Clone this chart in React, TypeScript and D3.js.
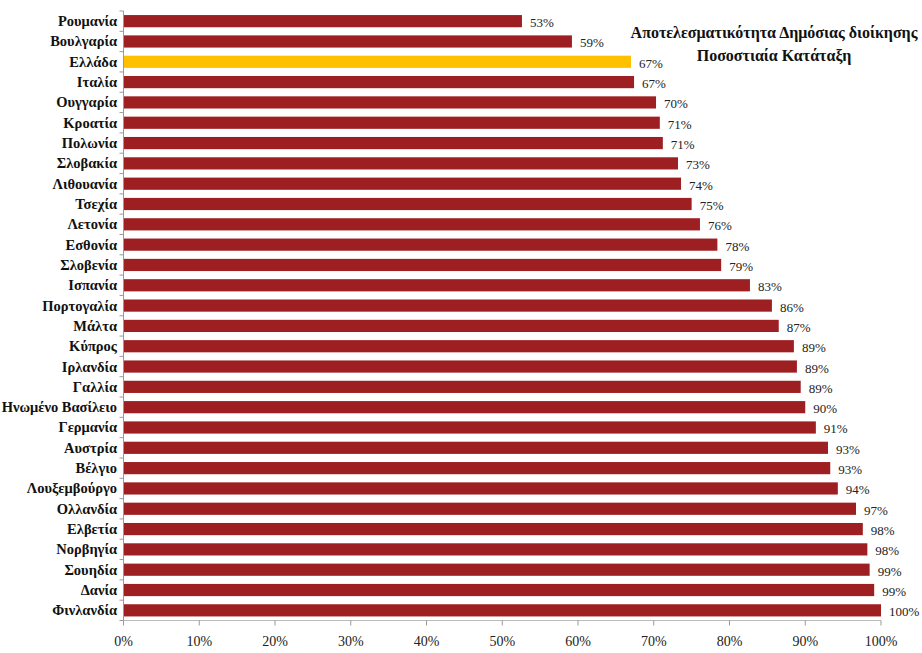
import React from "react";
import * as d3 from "d3";

const countries = [
  "Ρουμανία", "Βουλγαρία", "Ελλάδα", "Ιταλία", "Ουγγαρία", "Κροατία", "Πολωνία",
  "Σλοβακία", "Λιθουανία", "Τσεχία", "Λετονία", "Εσθονία", "Σλοβενία", "Ισπανία",
  "Πορτογαλία", "Μάλτα", "Κύπρος", "Ιρλανδία", "Γαλλία", "Ηνωμένο Βασίλειο",
  "Γερμανία", "Αυστρία", "Βέλγιο", "Λουξεμβούργο", "Ολλανδία", "Ελβετία",
  "Νορβηγία", "Σουηδία", "Δανία", "Φινλανδία",
];
const values = [
  52.6, 59.2, 67.0, 67.4, 70.3, 70.8, 71.2, 73.2, 73.6, 75.0, 76.1, 78.4, 78.9, 82.7,
  85.6, 86.5, 88.5, 88.9, 89.4, 90.0, 91.4, 93.0, 93.3, 94.3, 96.7, 97.6, 98.2, 98.5,
  99.1, 100,
];
const highlight = "Ελλάδα";
const xTicks = [0, 10, 20, 30, 40, 50, 60, 70, 80, 90, 100];
const titleLines = ["Αποτελεσματικότητα Δημόσιας διοίκησης", "Ποσοστιαία Κατάταξη"];

export default function App() {
  const W = 922, H = 653;
  const left = 123.5, right = 881, top = 11, bottom = 620.5;
  const x = d3.scaleLinear().domain([0, 100]).range([left, right]);
  const y = d3.scaleBand<string>().domain(countries).range([top, bottom]).paddingInner(0.4).paddingOuter(0.2);
  const boundaries = d3.range(countries.length + 1).map((i) => top + (i * (bottom - top)) / countries.length);
  const serif = "'Liberation Serif', 'DejaVu Serif', serif";
  return (
    <svg width={W} height={H} style={{ position: "absolute", left: 0, top: 0, background: "#fff" }}>
      {countries.map((c, i) => (
        <g key={c}>
          <rect x={x(0)} y={y(c)!} width={x(values[i]) - x(0)} height={y.bandwidth()}
            fill={c === highlight ? "#ffc000" : "#9e1f22"} />
          <text x={x(values[i]) + 8} y={y(c)! + y.bandwidth() / 2 + 6} fontFamily={serif}
            fontSize={13} fill="#222">{Math.round(values[i])}%</text>
          <text x={117} y={y(c)! + y.bandwidth() / 2 + 5} textAnchor="end" fontFamily={serif}
            fontWeight="bold" fontSize={14.5} fill="#111">{c}</text>
        </g>
      ))}
      <line x1={left} x2={left} y1={top} y2={bottom} stroke="#999" />
      {boundaries.map((b, i) => (
        <line key={i} x1={left - 4} x2={left} y1={b} y2={b} stroke="#999" />
      ))}
      <line x1={left} x2={right} y1={bottom} y2={bottom} stroke="#bbb" />
      {xTicks.map((t) => (
        <g key={t}>
          <line x1={x(t)} x2={x(t)} y1={bottom} y2={bottom + 5} stroke="#999" />
          <text x={x(t)} y={646} textAnchor="middle" fontFamily={serif} fontSize={14} fill="#222">{t}%</text>
        </g>
      ))}
      {titleLines.map((t, i) => (
        <text key={i} x={774} y={38 + i * 23} textAnchor="middle" fontFamily={serif}
          fontWeight="bold" fontSize={16} fill="#111">{t}</text>
      ))}
    </svg>
  );
}
